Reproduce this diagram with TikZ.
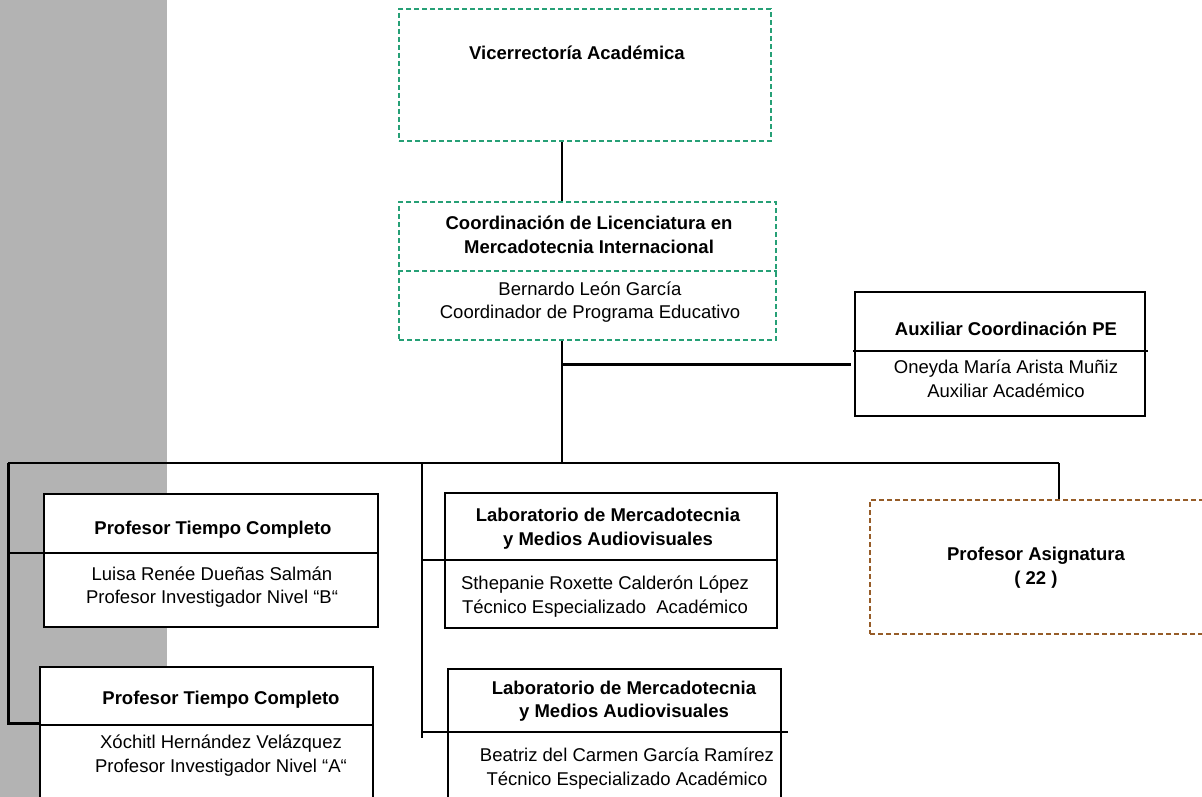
\documentclass[tikz,border=0pt]{standalone}
\usepackage{fontspec}
\setmainfont{Liberation Sans}
\usetikzlibrary{calc}
\definecolor{boxgreen}{RGB}{38,160,118}
\definecolor{boxbrown}{RGB}{150,92,40}
\definecolor{sidegray}{RGB}{179,179,179}
\begin{document}
\begin{tikzpicture}[x=1pt,y=-1pt,
  txt/.style={font=\fontsize{18.5}{23.5}\selectfont, align=center, inner sep=0pt},
  ttl/.style={txt, font=\fontsize{18.5}{23.5}\selectfont\bfseries},
  solidbox/.style={draw=black, line width=1.3pt, fill=white, inner sep=0pt},
  greenbox/.style={draw=boxgreen, line width=1.4pt, dash pattern=on 5pt off 3pt, fill=white, inner sep=0pt},
  brownbox/.style={draw=boxbrown, line width=1.3pt, dash pattern=on 5pt off 3pt, fill=white, inner sep=0pt},
  link/.style={draw=black, line width=1.3pt},
  heavy/.style={draw=black, line width=3pt}]
% page and side band
\fill[white] (0,0) rectangle (1202,797);
\useasboundingbox (0,0) rectangle (1202,797);
\fill[sidegray] (0,0) rectangle (167,797);

% helper coordinates for connector columns
\coordinate (mid) at (562,0);
\coordinate (lab) at (422,0);
\coordinate (pa) at (1059,0);
\coordinate (lt) at (8,0);

% Vicerrectoria
\node[greenbox, minimum width=372, minimum height=132] (vic) at (585,75) {};
\node[ttl] (vict) at (577,53) {Vicerrectoría Académica};

% Coordinacion
\node[greenbox, minimum width=377, minimum height=138] (coord) at (587.5,271) {};
\draw[draw=boxgreen, line width=1.4pt, dash pattern=on 5pt off 3pt] (coord.west |- 0,271) -- (coord.east |- 0,271);
\node[ttl] (coordt) at (589,235) {Coordinación de Licenciatura en\\Mercadotecnia Internacional};
\node[txt] (coordn) at (590,302) {Bernardo León García\\Coordinador de Programa Educativo};

% Auxiliar
\node[solidbox, minimum width=290, minimum height=124] (aux) at (1000,354) {};
\coordinate (auxdl) at (853,351);
\coordinate (auxdr) at (1148,351);
\draw[link] (auxdl) -- (auxdr);
\node[ttl] (auxt) at (1006,329) {Auxiliar Coordinación PE};
\node[txt] (auxn) at (1006,379) {Oneyda María Arista Muñiz\\Auxiliar Académico};

% Profesor Tiempo Completo 1
\node[solidbox, minimum width=334, minimum height=133] (pt1) at (211,560.5) {};
\draw[link] (pt1.west |- 0,553) -- (pt1.east |- 0,553);
\node[ttl] (pt1t) at (213,530) {Profesor Tiempo Completo};
\node[txt] (pt1n) at (212,587) {Luisa Renée Dueñas Salmán\\Profesor Investigador Nivel “B“};

% Profesor Tiempo Completo 2
\node[solidbox, minimum width=333, minimum height=140] (pt2) at (206.5,737) {};
\draw[link] (pt2.west |- 0,725) -- (pt2.east |- 0,725);
\node[ttl] (pt2t) at (221,700) {Profesor Tiempo Completo};
\node[txt] (pt2n) at (221,755.5) {Xóchitl Hernández Velázquez\\Profesor Investigador Nivel “A“};

% Laboratorio 1
\node[solidbox, minimum width=332, minimum height=135] (lab1) at (611,560.5) {};
\draw[link] (lab1.west |- 0,560) -- (lab1.east |- 0,560);
\node[ttl] (lab1t) at (608,528.5) {Laboratorio de Mercadotecnia\\y Medios Audiovisuales};
\node[txt] (lab1n) at (605,596.5) {Sthepanie Roxette Calderón López\\Técnico Especializado\ \ Académico};

% Laboratorio 2
\node[solidbox, minimum width=333, minimum height=140] (lab2) at (614.5,739) {};
\coordinate (lab2dr) at (788,732);
\node[ttl] (lab2t) at (624,701) {Laboratorio de Mercadotecnia\\y Medios Audiovisuales};
\node[txt] (lab2n) at (627,768.5) {Beatriz del Carmen García Ramírez\\Técnico Especializado Académico};

% Profesor Asignatura
\node[brownbox, minimum width=340, minimum height=134] (asig) at (1040,567) {};
\node[ttl] (asigt) at (1036,567.5) {Profesor Asignatura\\( 22 )};

% connectors
\coordinate (bus) at (0,463);
\draw[link] (vic.south -| mid) -- (coord.north -| mid);
\draw[link] (coord.south -| mid) -- (bus -| mid);
\draw[heavy] (mid |- 0,364) -- (851,364);
\draw[link] (bus -| lt) -- (bus -| pa);
\draw[link, line width=2pt] (bus -| pa) -- (asig.north -| pa);
\draw[heavy] (bus -| lt) -- (lt |- 0,723) -- (pt2.west |- 0,723);
\draw[link] (lt |- 0,553) -- (pt1.west |- 0,553);
\draw[link] (bus -| lab) -- (lab |- 0,738);
\draw[link] (lab |- 0,560) -- (lab1.west |- 0,560);
\draw[link] (lab |- 0,732) -- (lab2dr);
\end{tikzpicture}
\end{document}
